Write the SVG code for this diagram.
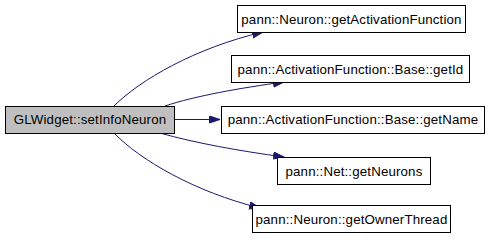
<svg xmlns="http://www.w3.org/2000/svg" width="491" height="240" viewBox="0 0 491 240">
  <style>
    .node rect { fill: #ffffff; stroke: #000000; stroke-width: 1; }
    .node.root rect { fill: #bfbfbf; }
    .node text { font-family: "Liberation Sans", Arial, sans-serif; font-size: 13.3px; letter-spacing: 0.15px; fill: #000000; text-anchor: middle; }
    .edge { fill: none; stroke: #191970; stroke-width: 1; marker-end: url(#arrow); }
  </style>
  <defs>
    <marker id="arrow" markerUnits="userSpaceOnUse" markerWidth="12" markerHeight="9" refX="11" refY="4" orient="auto">
      <path d="M0.5,0.5 L11,4 L0.5,7.5 z" fill="#191970" stroke="#191970"/>
    </marker>
  </defs>

  <g id="edges">
    <path class="edge" d="M114,106 C140,80 195,48 263,32"/>
    <path class="edge" d="M165,106 C195,96 240,88 284,82"/>
    <path class="edge" d="M175,119.5 L220,119.5"/>
    <path class="edge" d="M160,133 C195,143 240,151 284,157"/>
    <path class="edge" d="M114,133 C140,160 195,192 260,208"/>
  </g>

  <g id="node-setInfoNeuron" class="node root">
    <rect x="5.5" y="106.5" width="169" height="27"/>
    <text x="90" y="124">GLWidget::setInfoNeuron</text>
  </g>
  <g id="node-getActivationFunction" class="node">
    <rect x="237.5" y="5.5" width="228" height="27"/>
    <text x="351.5" y="24">pann::Neuron::getActivationFunction</text>
  </g>
  <g id="node-getId" class="node">
    <rect x="231.5" y="55.5" width="238" height="27"/>
    <text x="350.5" y="74">pann::ActivationFunction::Base::getId</text>
  </g>
  <g id="node-getName" class="node">
    <rect x="221.5" y="106.5" width="263" height="27"/>
    <text x="353" y="124">pann::ActivationFunction::Base::getName</text>
  </g>
  <g id="node-getNeurons" class="node">
    <rect x="277.5" y="157.5" width="153" height="27"/>
    <text x="354" y="176">pann::Net::getNeurons</text>
  </g>
  <g id="node-getOwnerThread" class="node">
    <rect x="252.5" y="205.5" width="198" height="27"/>
    <text x="351.5" y="224">pann::Neuron::getOwnerThread</text>
  </g>
</svg>
